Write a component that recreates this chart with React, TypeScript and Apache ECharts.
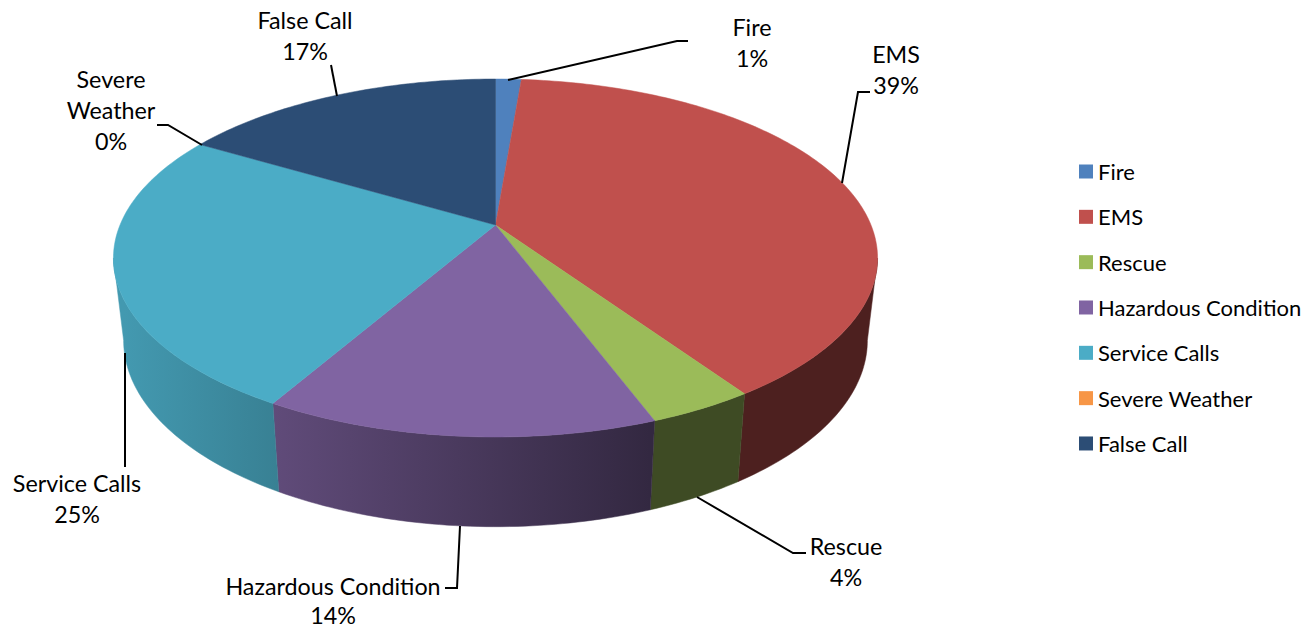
import React, { useEffect, useRef } from "react";
import * as echarts from "echarts";

const categories = ["Fire", "EMS", "Rescue", "Hazardous Condition", "Service Calls", "Severe Weather", "False Call"];
const values = [1.3, 39.2, 3.8, 14.0, 25.2, 0, 16.5];
const topColors = ["#4f81bd", "#c0504d", "#9bbb59", "#8064a2", "#4bacc6", "#f79646", "#2c4d75"];
const labelLines = [["Fire"], ["EMS"], ["Rescue"], ["Hazardous Condition"], ["Service Calls"], ["Severe", "Weather"], ["False Call"]];
const labelFirstLine = [[752, 27], [896, 54], [846, 546], [333, 586], [77, 483], [111, 79], [305, 20]];
const labelSteps = [31, 31, 31, 29, 31, 31, 31];
const leaders = [
  [[508, 80], [677, 41], [688, 41]],
  [[842, 183], [858, 92], [870, 92]],
  [[697, 497], [793, 553], [806, 553]],
  [[460, 526], [457, 588], [445, 588]],
  [[125, 353], [125, 467]],
  [[202, 145], [168, 125], [157, 125]],
  [[337, 96], [331, 65]],
];

const FONT = "Lato";
const LABEL_FS = 23.3;
const CX = 495.5;
const K = 0.1844;
const TOP = { A: 375.5, B: 172.9, Y: 225 };
const BOT = { A: 365.5, B: 180, Y: 306 };
const EDGE = (Math.asin(K) * 180) / Math.PI;

const total = values.reduce((a, b) => a + b, 0);
const starts: number[] = [];
values.reduce((acc, v, i) => {
  starts[i] = acc;
  return acc + v;
}, 0);

const project = (p: { A: number; B: number; Y: number }, deg: number) => {
  const t = (deg * Math.PI) / 180;
  const u = Math.sin(t);
  const v = Math.cos(t);
  const d = 1 + K * v;
  return [CX + (p.A * u) / d, p.Y - (p.B * v) / d];
};

const arc = (p: { A: number; B: number; Y: number }, a: number, b: number) => {
  const pts: number[][] = [];
  const n = Math.max(2, Math.ceil(Math.abs(b - a)));
  for (let i = 0; i <= n; i++) pts.push(project(p, a + ((b - a) * i) / n));
  return pts;
};

const shadeHex = (hex: string, f: number) => {
  const n = parseInt(hex.slice(1), 16);
  const c = [(n >> 16) & 255, (n >> 8) & 255, n & 255].map((x) => Math.round(x * f));
  return `rgb(${c[0]},${c[1]},${c[2]})`;
};

const wallFill = (hex: string) => ({
  type: "linear",
  global: true,
  x: 124,
  y: 0,
  x2: 868,
  y2: 0,
  colorStops: [
    { offset: 0, color: shadeHex(hex, 0.89) },
    { offset: 0.707, color: shadeHex(hex, 0.4) },
    { offset: 1, color: shadeHex(hex, 0.4) },
  ],
});

const sliceSeries = (i: number) => ({
  type: "custom",
  name: categories[i],
  coordinateSystem: "none",
  silent: true,
  itemStyle: { color: topColors[i] },
  data: [[values[i]]],
  z: 2,
  renderItem: () => {
    const children: any[] = [];
    if (values[i] > 0) {
      const a = (starts[i] / total) * 360;
      const b = ((starts[i] + values[i]) / total) * 360;
      const wa = Math.max(a, 90 + EDGE);
      const wb = Math.min(b, 270 - EDGE);
      if (wb > wa) {
        const pts = [...arc(TOP, wa, wb), ...arc(BOT, wb, wa)];
        const fill = wallFill(topColors[i]);
        children.push({
          type: "polygon",
          shape: { points: pts },
          style: { fill, stroke: fill, lineWidth: 0.5 },
        });
      }
      const topPts = [[CX, TOP.Y], ...arc(TOP, a, b)];
      children.push({
        type: "polygon",
        shape: { points: topPts },
        style: { fill: topColors[i], stroke: topColors[i], lineWidth: 0.5 },
      });
    }
    return { type: "group", children };
  },
});

const labelSeries = {
  type: "custom",
  name: "labels",
  coordinateSystem: "none",
  silent: true,
  z: 5,
  data: categories.map((_, i) => [i]),
  renderItem: (_: any, api: any) => {
    const i = api.value(0);
    const pct = Math.round(Math.round((values[i] / total) * 1000) / 10);
    const lines = [...labelLines[i], `${pct}%`];
    return {
      type: "group",
      children: lines.map((text, j) => ({
        type: "text",
        style: {
          text,
          x: labelFirstLine[i][0],
          y: labelFirstLine[i][1] + j * labelSteps[i],
          align: "center",
          verticalAlign: "middle",
          fontFamily: FONT,
          fontSize: LABEL_FS,
          fill: "#000",
        },
      })),
    };
  },
};

export default function App() {
  const ref = useRef<HTMLDivElement>(null);
  useEffect(() => {
    const chart = echarts.init(ref.current!, undefined, { renderer: "svg" });
    chart.setOption({
      animation: false,
      backgroundColor: "#fff",
      legend: {
        data: categories,
        orient: "vertical",
        left: 1074,
        top: 153.5,
        icon: "rect",
        itemWidth: 14,
        itemHeight: 14,
        itemGap: 19.33,
        selectedMode: false,
        textStyle: { fontFamily: FONT, fontSize: 22, color: "#000", lineHeight: 26 },
      },
      series: [...categories.map((_, i) => sliceSeries(i)), labelSeries],
      graphic: leaders.map((pts) => ({
        type: "polyline",
        shape: { points: pts },
        style: { stroke: "#000", lineWidth: 2, fill: "none" },
        z: 4,
      })),
    });
    return () => chart.dispose();
  }, []);
  return <div ref={ref} style={{ position: "fixed", left: 0, top: 0, width: 1310, height: 629 }} />;
}
